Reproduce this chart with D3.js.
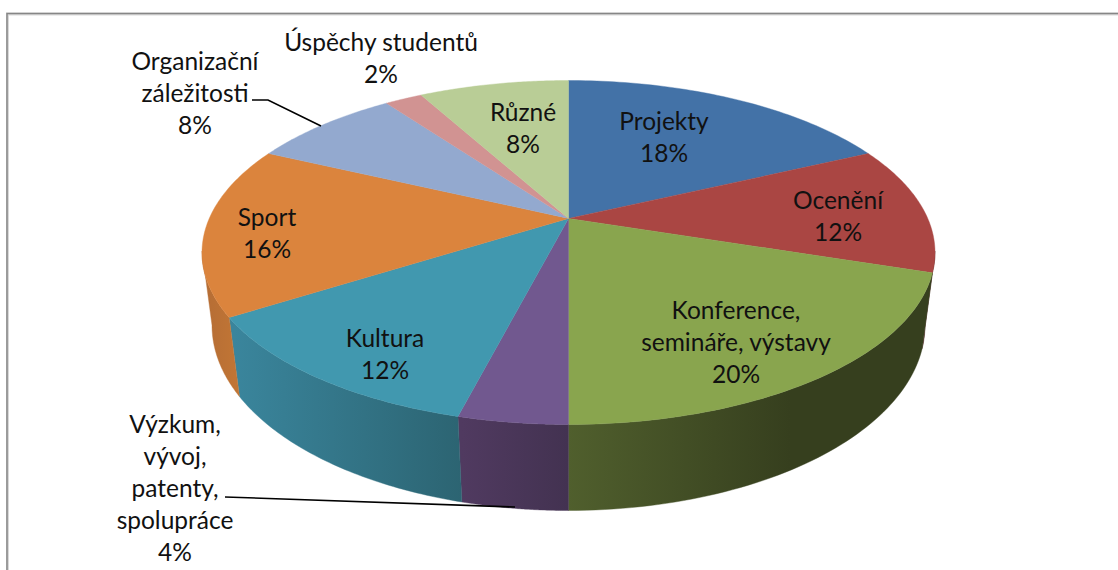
<!DOCTYPE html>
<html><head><meta charset="utf-8">
<style>html,body{margin:0;padding:0;background:#fff;overflow:hidden}svg{display:block}text{font-family:Lato,"Open Sans",sans-serif;font-size:24.5px;fill:#111;text-anchor:middle}</style>
<script src="https://cdn.jsdelivr.net/npm/d3@7/dist/d3.min.js"></script>
</head><body><svg id="c" width="1118" height="570"></svg>
<script>
const categories = ["Projekty","Ocenění","Konference, semináře, výstavy","Výzkum, vývoj, patenty, spolupráce","Kultura","Sport","Organizační záležitosti","Úspěchy studentů","Různé"];
const values = [18,12,20,4,12,16,8,2,8];
const topColors = ["#4372a7","#aa4643","#89a54e","#71588f","#4198af","#db843d","#93a9cf","#d19392","#b9cd96"];
const wallFrom = ["#2c4c70","#5a2423","#505f2d","#503a60","#3a859c","#b56d35","#5f7a9e","#8a5a59","#6f8550"];
const wallTo = ["#2c4c70","#4a1e1d","#363f1e","#433251","#2c6472","#c27635","#5f7a9e","#8a5a59","#6f8550"];
const labelLines = [["Projekty","18%"],["Ocenění","12%"],["Konference,","semináře, výstavy","20%"],["Výzkum,","vývoj,","patenty,","spolupráce","4%"],["Kultura","12%"],["Sport","16%"],["Organizační","záležitosti","8%"],["Úspěchy studentů","2%"],["Různé","8%"]];
const labelAt = [[664,122],[838,201],[736,311],[175,425],[385,339],[267,218],[195,62],[381,43],[523,113]];
const leaders = [[[252,100],[268,100],[321,126]],[[225,497],[515,507]]];
const lineGap = 32;

const svg = d3.select("#c");
const cx = 568.5;
const top3d = {x:d3.scaleLinear([-1,1],[cx-366.5,cx+366.5]), y:d3.scaleLinear([-1,1],[80.5,424.5]), t:-0.198};
const bot3d = {x:d3.scaleLinear([-1,1],[cx-356.5,cx+356.5]), y:d3.scaleLinear([-1,1],[140,510.5]), t:-0.19};
function proj(f,a,r=1){
  const u=r*Math.sin(a), v=-r*Math.cos(a), d=1+f.t*v;
  return [f.x(u*Math.sqrt(1-f.t*f.t)/d), f.y((v+f.t)/d)];
}
const arcs = d3.pie().sort(null).value(d=>d)(values);
const line = d3.line();
const samples = (a0,a1)=>d3.range(0,61).map(i=>a0+(a1-a0)*i/60);
const defs = svg.append("defs");
wallFrom.forEach((c,i)=>{
  const g=defs.append("linearGradient").attr("id","w"+i).attr("gradientUnits","userSpaceOnUse");
  const span = i===2?[568,790]:i===5?[204,240]:i===4?[235,462]:i===3?[462,568]:[0,1118];
  g.attr("x1",span[0]).attr("x2",span[1]).attr("y1",0).attr("y2",0);
  g.append("stop").attr("offset",0).attr("stop-color",c);
  g.append("stop").attr("offset",1).attr("stop-color",wallTo[i]);
});
svg.append("path").attr("d",line([[7.5,570],[7.5,14],[1118,14]])).attr("fill","none").attr("stroke","#d9d9d9").attr("stroke-width",3);
svg.append("path").attr("d",line([[7,570],[7,13.5],[1118,13.5]])).attr("fill","none").attr("stroke","#868686").attr("stroke-width",1.5);

// Only the front of the rim is visible
const amin=Math.acos(-0.19), amax=2*Math.PI-amin;
svg.append("g").selectAll("path").data(arcs.filter(d=>d.endAngle>amin&&d.startAngle<amax)).join("path")
  .attr("fill",d=>`url(#w${d.index})`).attr("stroke",d=>`url(#w${d.index})`).attr("stroke-width",0.4)
  .attr("d",d=>{
    const s=samples(Math.max(d.startAngle,amin),Math.min(d.endAngle,amax));
    return line(s.map(a=>proj(top3d,a)).concat(s.slice().reverse().map(a=>proj(bot3d,a))))+"Z";
  });
svg.append("g").selectAll("path").data(arcs).join("path")
  .attr("fill",d=>topColors[d.index]).attr("stroke",d=>topColors[d.index]).attr("stroke-width",0.4)
  .attr("d",d=>line([proj(top3d,0,0)].concat(samples(d.startAngle,d.endAngle).map(a=>proj(top3d,a))))+"Z");

svg.append("g").selectAll("path").data(leaders).join("path").attr("d",d=>line(d)).attr("fill","none").attr("stroke","#000").attr("stroke-width",1.6);

const lab=svg.append("g").selectAll("g").data(categories).join("g");
lab.each(function(d,i){
  d3.select(this).selectAll("text").data(labelLines[i]).join("text")
    .attr("x",labelAt[i][0]).attr("y",(t,j)=>labelAt[i][1]+8+j*lineGap).text(t=>t);
});
</script></body></html>
